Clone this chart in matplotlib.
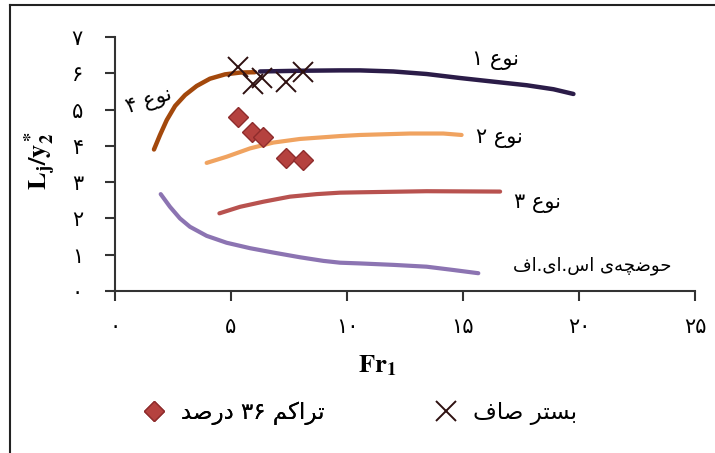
import re
import matplotlib
matplotlib.use("Agg")
import matplotlib.pyplot as plt
from matplotlib.lines import Line2D

# ---------------- data ----------------
type1_x = [6.25, 8.0, 9.7, 10.56, 12.0, 13.43, 14.87, 16.3, 17.75, 18.9, 19.76]
type1_y = [6.05, 6.07, 6.08, 6.08, 6.05, 5.98, 5.87, 5.77, 5.67, 5.56, 5.43]

type4_x = [1.68, 1.94, 2.23, 2.59, 3.02, 3.52, 4.09, 4.74, 5.39, 6.03]
type4_y = [3.90, 4.30, 4.71, 5.10, 5.40, 5.65, 5.85, 5.97, 6.02, 6.03]

type2_x = [3.95, 4.81, 5.82, 6.82, 7.97, 9.70, 10.56, 12.72, 14.15, 14.94]
type2_y = [3.53, 3.70, 3.93, 4.09, 4.19, 4.27, 4.30, 4.34, 4.34, 4.30]

type3_x = [4.50, 5.39, 6.39, 7.54, 8.69, 9.70, 10.56, 13.43, 16.6]
type3_y = [2.14, 2.32, 2.46, 2.60, 2.67, 2.71, 2.72, 2.75, 2.74]

saf_x = [1.97, 2.37, 2.80, 3.23, 3.95, 4.81, 5.82, 6.82, 7.97, 8.98, 9.70,
         10.56, 12.0, 13.43, 14.57, 15.66]
saf_y = [2.67, 2.32, 2.00, 1.77, 1.52, 1.33, 1.18, 1.06, 0.93, 0.83, 0.78,
         0.76, 0.72, 0.67, 0.58, 0.49]

smooth_x = [5.30, 5.95, 6.34, 7.37, 8.10]
smooth_y = [6.17, 5.70, 5.87, 5.76, 6.03]

rough_x = [5.30, 5.91, 6.38, 7.37, 8.10]
rough_y = [4.79, 4.38, 4.24, 3.66, 3.61]

x_ticks = [0, 5, 10, 15, 20, 25]
x_tick_labels = ["۰", "۵", "۱۰", "۱۵", "۲۰", "۲۵"]
y_ticks = [0, 1, 2, 3, 4, 5, 6, 7]
y_tick_labels = ["۰", "۱", "۲", "۳", "۴", "۵", "۶", "۷"]

label_type1 = "نوع ۱"
label_type2 = "نوع ۲"
label_type3 = "نوع ۳"
label_type4 = "نوع ۴"
label_saf = "حوضچه\u200cی اس.ای.اف"
legend_rough = "تراکم ۳۶ درصد"
legend_smooth = "بستر صاف"

# ------------- minimal Arabic/Persian shaping -------------
FORMS = {
    '\u0627': ('\uFE8D', '\uFE8E', None, None),       # alef
    '\u0628': ('\uFE8F', '\uFE90', '\uFE91', '\uFE92'),  # beh
    '\u062A': ('\uFE95', '\uFE96', '\uFE97', '\uFE98'),  # teh
    '\u062D': ('\uFEA1', '\uFEA2', '\uFEA3', '\uFEA4'),  # hah
    '\u062F': ('\uFEA9', '\uFEAA', None, None),       # dal
    '\u0631': ('\uFEAD', '\uFEAE', None, None),       # reh
    '\u0633': ('\uFEB1', '\uFEB2', '\uFEB3', '\uFEB4'),  # seen
    '\u0635': ('\uFEB9', '\uFEBA', '\uFEBB', '\uFEBC'),  # sad
    '\u0636': ('\uFEBD', '\uFEBE', '\uFEBF', '\uFEC0'),  # dad
    '\u0639': ('\uFEC9', '\uFECA', '\uFECB', '\uFECC'),  # ain
    '\u0641': ('\uFED1', '\uFED2', '\uFED3', '\uFED4'),  # feh
    '\u0645': ('\uFEE1', '\uFEE2', '\uFEE3', '\uFEE4'),  # meem
    '\u0646': ('\uFEE5', '\uFEE6', '\uFEE7', '\uFEE8'),  # noon
    '\u0647': ('\uFEE9', '\uFEEA', '\uFEEB', '\uFEEC'),  # heh
    '\u0648': ('\uFEED', '\uFEEE', None, None),       # waw
    '\u0686': ('\uFB7A', '\uFB7B', '\uFB7C', '\uFB7D'),  # tcheh
    '\u06A9': ('\uFB8E', '\uFB8F', '\uFB90', '\uFB91'),  # keheh
    '\u06CC': ('\uFBFC', '\uFBFD', '\uFBFE', '\uFBFF'),  # farsi yeh
}


def fa(s):
    out = []
    n = len(s)
    for i, c in enumerate(s):
        if c not in FORMS:
            out.append(c)
            continue
        prev = s[i - 1] if i > 0 else None
        nxt = s[i + 1] if i + 1 < n else None
        jp = prev in FORMS and FORMS[prev][2] is not None
        jn = FORMS[c][2] is not None and nxt in FORMS
        iso, fin, ini, med = FORMS[c]
        if jp and jn:
            out.append(med)
        elif jp:
            out.append(fin)
        elif jn:
            out.append(ini)
        else:
            out.append(iso)
    shaped = "".join(out).replace('\u200c', '')
    tokens = re.findall(r'[0-9\u06F0-\u06F9]+|[^0-9\u06F0-\u06F9]+', shaped)
    vis = []
    for t in reversed(tokens):
        if re.match(r'[0-9\u06F0-\u06F9]', t):
            vis.append(t)
        else:
            vis.append(t[::-1])
    return "".join(vis)


# ---------------- figure ----------------
plt.rcParams['mathtext.fontset'] = 'stix'
W, H = 715, 453
fig = plt.figure(figsize=(W / 100, H / 100), dpi=100)
ax = fig.add_axes([115 / W, (H - 291) / H, (695 - 115) / W, (291 - 37) / H])

c1 = '#2b1c48'
c4 = '#a3480c'
c2 = '#f0a360'
c3 = '#b8524f'
c5 = '#8c74b2'

line_kw = dict(solid_capstyle='round', solid_joinstyle='round')
ax.plot(type2_x, type2_y, color=c2, lw=3.0, zorder=2, **line_kw)
ax.plot(type3_x, type3_y, color=c3, lw=3.0, zorder=2, **line_kw)
ax.plot(saf_x, saf_y, color=c5, lw=3.0, zorder=2, **line_kw)
ax.plot(type1_x, type1_y, color=c1, lw=3.2, zorder=2, **line_kw)
ax.plot(type4_x, type4_y, color=c4, lw=3.2, zorder=3, **line_kw)

h_rough, = ax.plot(rough_x, rough_y, ls='none', marker='D', markersize=10,
                   markerfacecolor='#b5423f', markeredgecolor='#8e2c2c',
                   markeredgewidth=1.0, zorder=4)
h_smooth, = ax.plot(smooth_x, smooth_y, ls='none', marker='x', markersize=15,
                    markeredgewidth=1.4, color='#2e1010', zorder=5)

ax.set_xlim(0, 25)
ax.set_ylim(0, 7)
ax.set_xticks(x_ticks)
ax.set_xticklabels(x_tick_labels)
ax.set_yticks(y_ticks)
ax.set_yticklabels(y_tick_labels)

for s in ['top', 'right']:
    ax.spines[s].set_visible(False)
for s in ['left', 'bottom']:
    ax.spines[s].set_linewidth(1.5)
    ax.spines[s].set_color('#333333')
ax.tick_params(axis='both', direction='out', length=7, width=1.5,
               color='#333333', labelsize=15)
ax.tick_params(axis='y', pad=16)
ax.tick_params(axis='x', pad=12)

ax.set_ylabel(r'$\mathbf{L_j/y_2^*}$', fontsize=19)
ax.yaxis.set_label_coords(-75 / (695 - 115), (291 - 160) / (291 - 37))
ax.set_xlabel(r'$\mathbf{Fr_1}$', fontsize=19)
ax.xaxis.set_label_coords((377 - 115) / (695 - 115), -(365 - 291) / (291 - 37))
ax.xaxis.label.set_va('center')
ax.yaxis.label.set_va('center')


def place(px, py, text, size=15, **kw):
    fig.text(px / W, 1 - py / H, fa(text), ha='center', va='center',
             fontsize=size, color='black', **kw)


place(496, 60, label_type1)
place(499, 138, label_type2)
place(537, 203, label_type3)
place(149, 101, label_type4, rotation=18)
place(592, 266, label_saf, size=13)

leg1 = fig.legend([h_rough], [fa(legend_rough)], loc='center left',
                  bbox_to_anchor=(140 / W, 1 - 413 / H), frameon=False,
                  fontsize=16.5, handletextpad=0.6, handlelength=1.2,
                  borderaxespad=0, borderpad=0)
leg2 = fig.legend([h_smooth], [fa(legend_smooth)], loc='center left',
                  bbox_to_anchor=(432 / W, 1 - 413 / H), frameon=False,
                  fontsize=16.5, handletextpad=0.6, handlelength=1.2,
                  borderaxespad=0, borderpad=0)
fig.add_artist(leg1)

# outer frame (left and top edges)
fig.add_artist(Line2D([10 / W, 10 / W], [0, 1 - 5 / H], transform=fig.transFigure,
                      color='#222222', lw=1.5))
fig.add_artist(Line2D([10 / W, 1], [1 - 5 / H, 1 - 5 / H], transform=fig.transFigure,
                      color='#222222', lw=1.5))

fig.savefig('out.png', dpi=100)
